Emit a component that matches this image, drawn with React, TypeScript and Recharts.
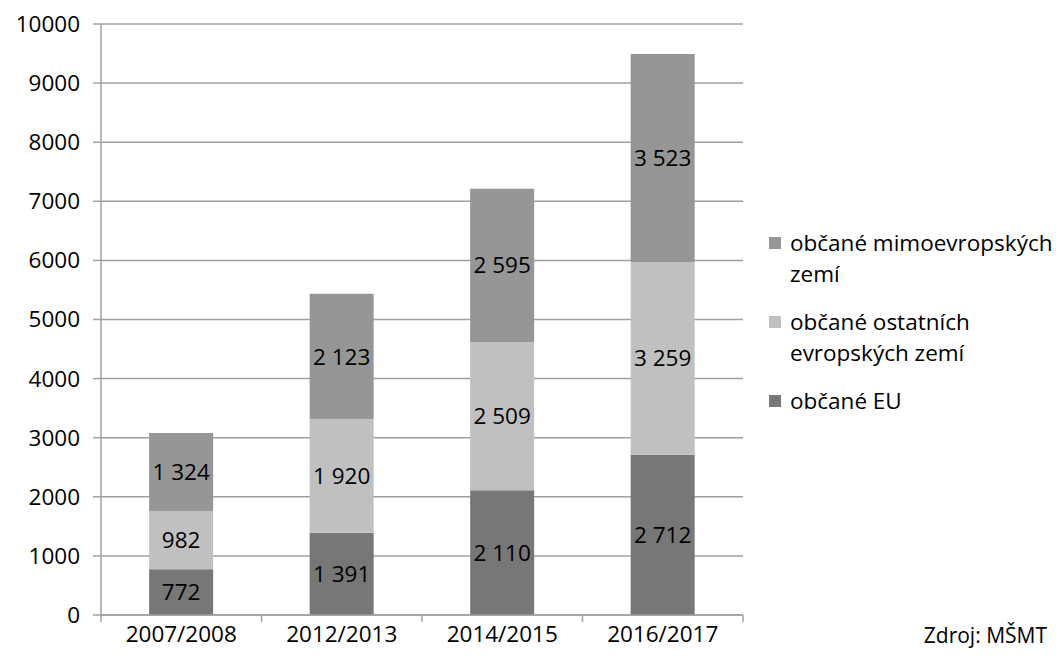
import React from 'react';
import { Bar, BarChart, CartesianGrid, LabelList, XAxis, YAxis } from 'recharts';

const years = ['2007/2008', '2012/2013', '2014/2015', '2016/2017'];
const eu = [772, 1391, 2110, 2712];
const otherEurope = [982, 1920, 2509, 3259];
const nonEurope = [1324, 2123, 2595, 3523];
const yTicks = [0, 1000, 2000, 3000, 4000, 5000, 6000, 7000, 8000, 9000, 10000];

const series = [
  { key: 'nonEurope', name: 'občané mimoevropských zemí', color: '#969696' },
  { key: 'otherEurope', name: 'občané ostatních evropských zemí', color: '#c0c0c0' },
  { key: 'eu', name: 'občané EU', color: '#777777' },
];

const data = years.map((year, i) => ({
  year,
  eu: eu[i],
  otherEurope: otherEurope[i],
  nonEurope: nonEurope[i],
}));

const W = 1062;
const H = 659;
const PLOT_LEFT = 101;
const PLOT_RIGHT = 743;
const PLOT_TOP = 24;
const PLOT_BOTTOM = 615;
const BAND = (PLOT_RIGHT - PLOT_LEFT) / years.length;
const FONT = '"Open Sans", sans-serif';
const FS = 22.5;
const AXIS = '#a0a0a0';

// thousands separated by a space, e.g. 1 324
function fmt(v: unknown): string {
  return String(v).replace(/\B(?=(\d{3})+(?!\d))/g, ' ');
}

function XTick(props: any) {
  const { x, y, payload, index } = props;
  const last = index === years.length - 1;
  return (
    <g>
      <line x1={x - BAND / 2} x2={x - BAND / 2} y1={PLOT_BOTTOM} y2={PLOT_BOTTOM + 7} stroke={AXIS} strokeWidth={1.5} />
      {last && (
        <line x1={x + BAND / 2} x2={x + BAND / 2} y1={PLOT_BOTTOM} y2={PLOT_BOTTOM + 7} stroke={AXIS} strokeWidth={1.5} />
      )}
      <text x={x} y={y} dy="0.71em" textAnchor="middle" fontSize={FS} fill="#000" fontFamily={FONT}>
        {payload.value}
      </text>
    </g>
  );
}

export default function App() {
  return (
    <div style={{ position: 'absolute', left: 0, top: 0, width: W, height: H, background: '#fff', fontFamily: FONT }}>
      <BarChart
        width={W}
        height={H}
        data={data}
        margin={{ top: PLOT_TOP, right: W - PLOT_RIGHT, bottom: 0, left: 0 }}
        barCategoryGap="30%"
      >
        <CartesianGrid vertical={false} stroke={AXIS} strokeWidth={1.5} />
        <XAxis
          dataKey="year"
          height={H - PLOT_BOTTOM}
          axisLine={{ stroke: AXIS, strokeWidth: 1.5 }}
          tickLine={false}
          tickSize={8}
          tickMargin={3}
          tick={<XTick />}
          interval={0}
        />
        <YAxis
          width={PLOT_LEFT}
          domain={[0, 10000]}
          ticks={yTicks}
          interval={0}
          axisLine={{ stroke: AXIS, strokeWidth: 1.5 }}
          tickLine={{ stroke: AXIS, strokeWidth: 1.5 }}
          tickSize={8}
          tickMargin={13}
          tick={{ fontSize: FS, fill: '#000', fontFamily: FONT }}
        />
        <Bar dataKey="eu" stackId="a" fill="#777777" isAnimationActive={false}>
          <LabelList dataKey="eu" position="center" formatter={fmt} fill="#000" fontSize={FS} fontFamily={FONT} />
        </Bar>
        <Bar dataKey="otherEurope" stackId="a" fill="#c0c0c0" isAnimationActive={false}>
          <LabelList dataKey="otherEurope" position="center" formatter={fmt} fill="#000" fontSize={FS} fontFamily={FONT} />
        </Bar>
        <Bar dataKey="nonEurope" stackId="a" fill="#969696" isAnimationActive={false}>
          <LabelList dataKey="nonEurope" position="center" formatter={fmt} fill="#000" fontSize={FS} fontFamily={FONT} />
        </Bar>
      </BarChart>

      <div style={{ position: 'absolute', left: 769, top: 227, width: W - 769, fontSize: FS, lineHeight: '31px', color: '#000' }}>
        {series.map((s) => (
          <div key={s.key} style={{ display: 'flex', alignItems: 'flex-start', marginBottom: 17 }}>
            <div style={{ width: 12, height: 12, background: s.color, marginTop: 10, marginRight: 9, flex: 'none' }} />
            <div>{s.name}</div>
          </div>
        ))}
      </div>

      <div style={{ position: 'absolute', right: W - 1047, top: 620, fontSize: 21, lineHeight: '31px', color: '#000', whiteSpace: 'nowrap' }}>
        Zdroj: MŠMT
      </div>
    </div>
  );
}
